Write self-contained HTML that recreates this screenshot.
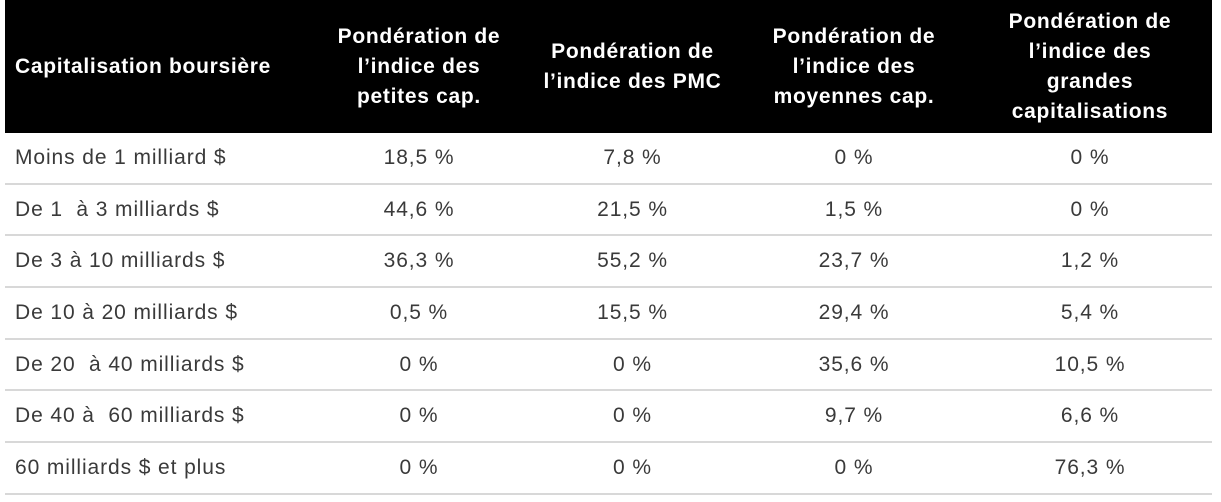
<!DOCTYPE html>
<html><head><meta charset="utf-8"><style>
body{margin:0;background:#fff;width:1221px;height:502px;overflow:hidden;font-family:"Liberation Sans",sans-serif}
#t{position:absolute;left:5px;top:0;width:1207px}
.hd{position:absolute;top:0;left:0;width:1207px;height:133px;background:#000}
.h{position:absolute;color:#fff;font-weight:bold;font-size:21px;letter-spacing:0.7px;line-height:30px;text-align:center;top:0;height:133px;display:flex;align-items:center;justify-content:center}
.r{position:absolute;left:0;width:1207px;height:51.7px;border-bottom:2px solid #d8d8d8;box-sizing:border-box}
.c{position:absolute;top:0;height:100%;display:flex;align-items:center;justify-content:center;font-size:21px;letter-spacing:0.9px;color:#3a3a3a}
.c0{justify-content:flex-start;padding-left:10px}
</style></head><body>
<div id="t">
<div class="hd">
<div class="h" style="left:0;width:308px;justify-content:flex-start;padding-left:10px">Capitalisation boursière</div>
<div class="h" style="left:308px;width:212px">Pondération de<br>l’indice des<br>petites cap.</div>
<div class="h" style="left:520px;width:215px">Pondération de<br>l’indice des PMC</div>
<div class="h" style="left:735px;width:228px">Pondération de<br>l’indice des<br>moyennes cap.</div>
<div class="h" style="left:963px;width:244px">Pondération de<br>l’indice des<br>grandes<br>capitalisations</div>
</div>
<div id="rows"></div>
</div>
<script>
const labels=["Moins de 1 milliard $","De 1 \u00a0à 3 milliards $","De 3 à 10 milliards $","De 10 à 20 milliards $","De 20 \u00a0à 40 milliards $","De 40 à \u00a060 milliards $","60 milliards $ et plus"];
const small=["18,5 %","44,6 %","36,3 %","0,5 %","0 %","0 %","0 %"];
const smid=["7,8 %","21,5 %","55,2 %","15,5 %","0 %","0 %","0 %"];
const mid=["0 %","1,5 %","23,7 %","29,4 %","35,6 %","9,7 %","0 %"];
const large=["0 %","0 %","1,2 %","5,4 %","10,5 %","6,6 %","76,3 %"];
const cols=[[0,308],[308,212],[520,215],[735,228],[963,244]];
const R=document.getElementById('rows');
labels.forEach((l,i)=>{
 const r=document.createElement('div');r.className='r';r.style.top=(133+i*51.7)+'px';
 
 
 [l,small[i],smid[i],mid[i],large[i]].forEach((v,j)=>{
  const c=document.createElement('div');c.className='c'+(j==0?' c0':'');
  c.style.left=cols[j][0]+'px';c.style.width=cols[j][1]+'px';c.textContent=v;
  
  
  r.appendChild(c);
 });
 R.appendChild(r);
});
</script>
</body></html>
